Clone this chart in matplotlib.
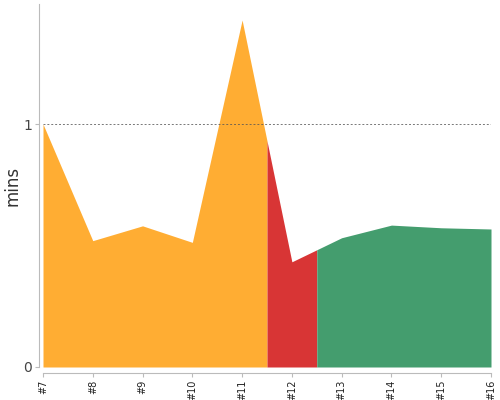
import numpy as np
import matplotlib
matplotlib.use("Agg")
import matplotlib.pyplot as plt

# === Data ===
labels = ["#7", "#8", "#9", "#10", "#11", "#12", "#13", "#14", "#15", "#16"]
mins = [1.0, 0.52, 0.581, 0.513, 1.428, 0.433, 0.532, 0.584, 0.573, 0.568]
# segments (in label index units) and their colours
seg_edges = [0, 4.5, 5.5, 9]
seg_colors = ["#ffad33", "#d83535", "#449d6e"]
threshold = 1.0

x = np.arange(len(labels))
y = np.array(mins)

fig = plt.figure(figsize=(5, 4), dpi=100)
ax = fig.add_axes([0.086, 0.0825, 0.896, 0.9075])

# fill each coloured segment of the same polyline
for (x0, x1), col in zip(zip(seg_edges[:-1], seg_edges[1:]), seg_colors):
    xs = np.concatenate([[x0], x[(x > x0) & (x < x1)], [x1]])
    ys = np.interp(xs, x, y)
    ax.fill_between(xs, 0, ys, color=col, linewidth=0, zorder=2)

ax.axhline(threshold, color="#555555", linestyle=(0, (2, 2)), linewidth=0.7,
           alpha=0.8, zorder=3)

ax.set_xlim(0, len(labels) - 1)
ax.set_ylim(0, 1.494)
ax.set_xticks(x)
ax.set_xticklabels(labels)
ax.set_yticks([0, 1])
ax.set_yticklabels(["0", "1"])
ax.set_ylabel("mins", fontsize=12, color="#333333", labelpad=1)

for side in ["top", "right"]:
    ax.spines[side].set_visible(False)
ax.spines["left"].set_position(("outward", 3))
ax.spines["bottom"].set_position(("outward", 4))
for side in ["left", "bottom"]:
    ax.spines[side].set_color("#bbbbbb")
ax.tick_params(axis="both", colors="#bbbbbb", length=3, width=0.8)
ax.tick_params(axis="x", labelcolor="#222222", labelsize=7, labelrotation=90, pad=2)
ax.tick_params(axis="y", labelcolor="#444444", labelsize=10, pad=2)

fig.savefig("out.png", dpi=100)
